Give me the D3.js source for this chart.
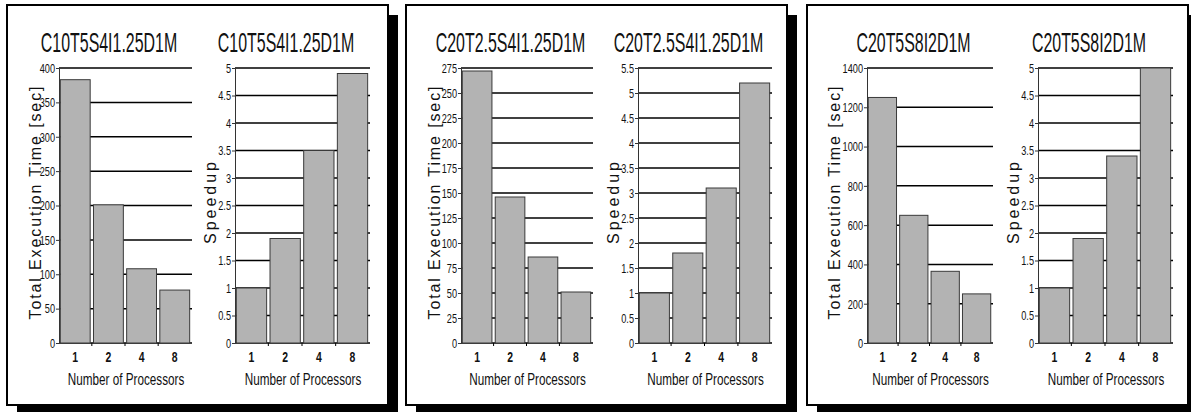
<!DOCTYPE html>
<html>
<head>
<meta charset="utf-8">
<script src="https://cdn.jsdelivr.net/npm/d3@7"></script>
<style>
  body { margin: 0; background: #fff; }
  svg { display: block; font-family: "Liberation Sans", Arial, sans-serif; }
</style>
</head>
<body>
<script>
// Width and height
var w = 1191,
    h = 412;

// data
var processors = ["1", "2", "4", "8"];
var configs = ["C10T5S4I1.25D1M", "C20T2.5S4I1.25D1M", "C20T5S8I2D1M"];
var execTime = [
  [383, 201, 108, 77],
  [272, 146, 86, 51],
  [1250, 650, 365, 250]
];
var speedup = [
  [1, 1.9, 3.5, 4.9],
  [1, 1.8, 3.1, 5.2],
  [1, 1.9, 3.4, 5]
];
var timeTicks = [
  [0, 50, 100, 150, 200, 250, 300, 350, 400],
  [0, 25, 50, 75, 100, 125, 150, 175, 200, 225, 250, 275],
  [0, 200, 400, 600, 800, 1000, 1200, 1400]
];
var speedTicks = [
  [0, 0.5, 1, 1.5, 2, 2.5, 3, 3.5, 4, 4.5, 5],
  [0, 0.5, 1, 1.5, 2, 2.5, 3, 3.5, 4, 4.5, 5, 5.5],
  [0, 0.5, 1, 1.5, 2, 2.5, 3, 3.5, 4, 4.5, 5]
];

// layout (pixel positions of panels and plot areas)
var panelX = [7, 406, 807],
    panelY = 5,
    panelW = 381,
    panelH = 400,
    shadow = 10;
var plotTop = 68,
    plotBottom = 343;
// two charts per panel: left = time, right = speedup
var chartPos = [
  [{x0: 59, x1: 191, yt: 41}, {x0: 235, x1: 369, yt: 216}],
  [{x0: 461, x1: 592, yt: 440}, {x0: 638, x1: 771, yt: 619}],
  [{x0: 867, x1: 992, yt: 840}, {x0: 1038, x1: 1172, yt: 1019}]
];

var svg = d3.select('body')
            .append('svg')
            .attr('width', w)
            .attr('height', h);

// squeeze text horizontally, the figure uses a narrow face
function condense(sel, f) {
  sel.each(function() {
    var t = d3.select(this);
    var x = +t.attr('x') || 0,
        y = +t.attr('y') || 0;
    t.attr('x', null)
     .attr('y', null)
     .attr('transform', 'translate(' + x + ',' + y + ') scale(' + f + ',1)');
  });
}

// panels with drop shadow
panelX.forEach(function(px) {
  svg.append('rect')
     .attr('x', px + shadow)
     .attr('y', panelY + shadow)
     .attr('width', panelW)
     .attr('height', panelH + 20)
     .attr('fill', '#000');
  svg.append('rect')
     .attr('x', px)
     .attr('y', panelY)
     .attr('width', panelW)
     .attr('height', panelH)
     .attr('fill', '#fff')
     .attr('stroke', '#000')
     .attr('stroke-width', 2);
});

function drawChart(pos, title, values, ticks, yLabel, yLabelLen) {
  var g = svg.append('g');

  var xScale = d3.scaleBand()
                 .domain(processors)
                 .range([pos.x0, pos.x1])
                 .paddingInner(0.1)
                 .paddingOuter(0.04);

  var yScale = d3.scaleLinear()
                 .domain([0, ticks[ticks.length - 1]])
                 .range([plotBottom, plotTop]);

  var mid = (pos.x0 + pos.x1) / 2;

  // title
  g.append('text')
   .attr('x', mid - 16)
   .attr('y', 52)
   .attr('text-anchor', 'middle')
   .attr('font-size', 27)
   .attr('fill', '#111')
   .text(title)
   .call(condense, 0.59);

  // gridlines behind the bars
  g.selectAll('.grid')
   .data(ticks)
   .enter()
   .append('line')
   .attr('x1', pos.x0)
   .attr('x2', pos.x1 + 1)
   .attr('y1', function(d) { return yScale(d); })
   .attr('y2', function(d) { return yScale(d); })
   .attr('stroke', '#000')
   .attr('stroke-width', 1.5);

  // small ticks under the baseline between the bars
  var bounds = processors.slice(1).map(function(p) {
    return xScale(p) - xScale.step() * xScale.paddingInner() / 2;
  });
  g.selectAll('.xtick')
   .data(bounds)
   .enter()
   .append('line')
   .attr('x1', function(d) { return d; })
   .attr('x2', function(d) { return d; })
   .attr('y1', plotBottom)
   .attr('y2', plotBottom + 3)
   .attr('stroke', '#000');

  // bars
  g.selectAll('.bar')
   .data(values)
   .enter()
   .append('rect')
   .attr('x', function(d, i) { return xScale(processors[i]); })
   .attr('y', function(d) { return yScale(d); })
   .attr('width', xScale.bandwidth())
   .attr('height', function(d) { return plotBottom - yScale(d); })
   .attr('fill', '#b3b3b3')
   .attr('stroke', '#3a3a3a')
   .attr('stroke-width', 1);

  // y axis
  var yAxis = d3.axisLeft()
                .scale(yScale)
                .tickValues(ticks)
                .tickSize(3)
                .tickSizeOuter(0)
                .tickPadding(1)
                .tickFormat(String);

  var ya = g.append('g')
            .attr('transform', 'translate(' + pos.x0 + ', 0)')
            .call(yAxis);
  ya.select('.domain').attr('stroke', '#333');
  ya.selectAll('.tick line').attr('stroke', '#333');
  ya.selectAll('text')
    .attr('font-size', 13.5)
    .attr('font-family', '"Liberation Sans", Arial, sans-serif')
    .attr('fill', '#111')
    .call(condense, 0.68);

  // x axis labels
  var xAxis = d3.axisBottom()
                .scale(xScale)
                .tickSize(0)
                .tickPadding(9);

  var xa = g.append('g')
            .attr('transform', 'translate(0, ' + plotBottom + ')')
            .call(xAxis);
  xa.select('.domain').remove();
  xa.selectAll('text')
    .attr('font-size', 14.5)
    .attr('font-weight', 'bold')
    .attr('font-family', '"Liberation Sans", Arial, sans-serif')
    .attr('fill', '#111')
    .call(condense, 0.72);

  // x axis title
  g.append('text')
   .attr('x', mid + 1)
   .attr('y', 385)
   .attr('text-anchor', 'middle')
   .attr('font-size', 17)
   .attr('fill', '#111')
   .text('Number of Processors')
   .call(condense, 0.69);

  // y axis title
  g.append('text')
   .attr('transform', 'translate(' + pos.yt + ', ' + 203 + ') rotate(-90)')
   .attr('text-anchor', 'middle')
   .attr('font-size', 16)
   .attr('fill', '#111')
   .attr('textLength', yLabelLen)
   .attr('lengthAdjust', 'spacing')
   .text(yLabel);
}

configs.forEach(function(c, i) {
  drawChart(chartPos[i][0], c, execTime[i], timeTicks[i], 'Total Execution Time [sec]', 233);
  drawChart(chartPos[i][1], c, speedup[i], speedTicks[i], 'Speedup', 82);
});
</script>
</body>
</html>
